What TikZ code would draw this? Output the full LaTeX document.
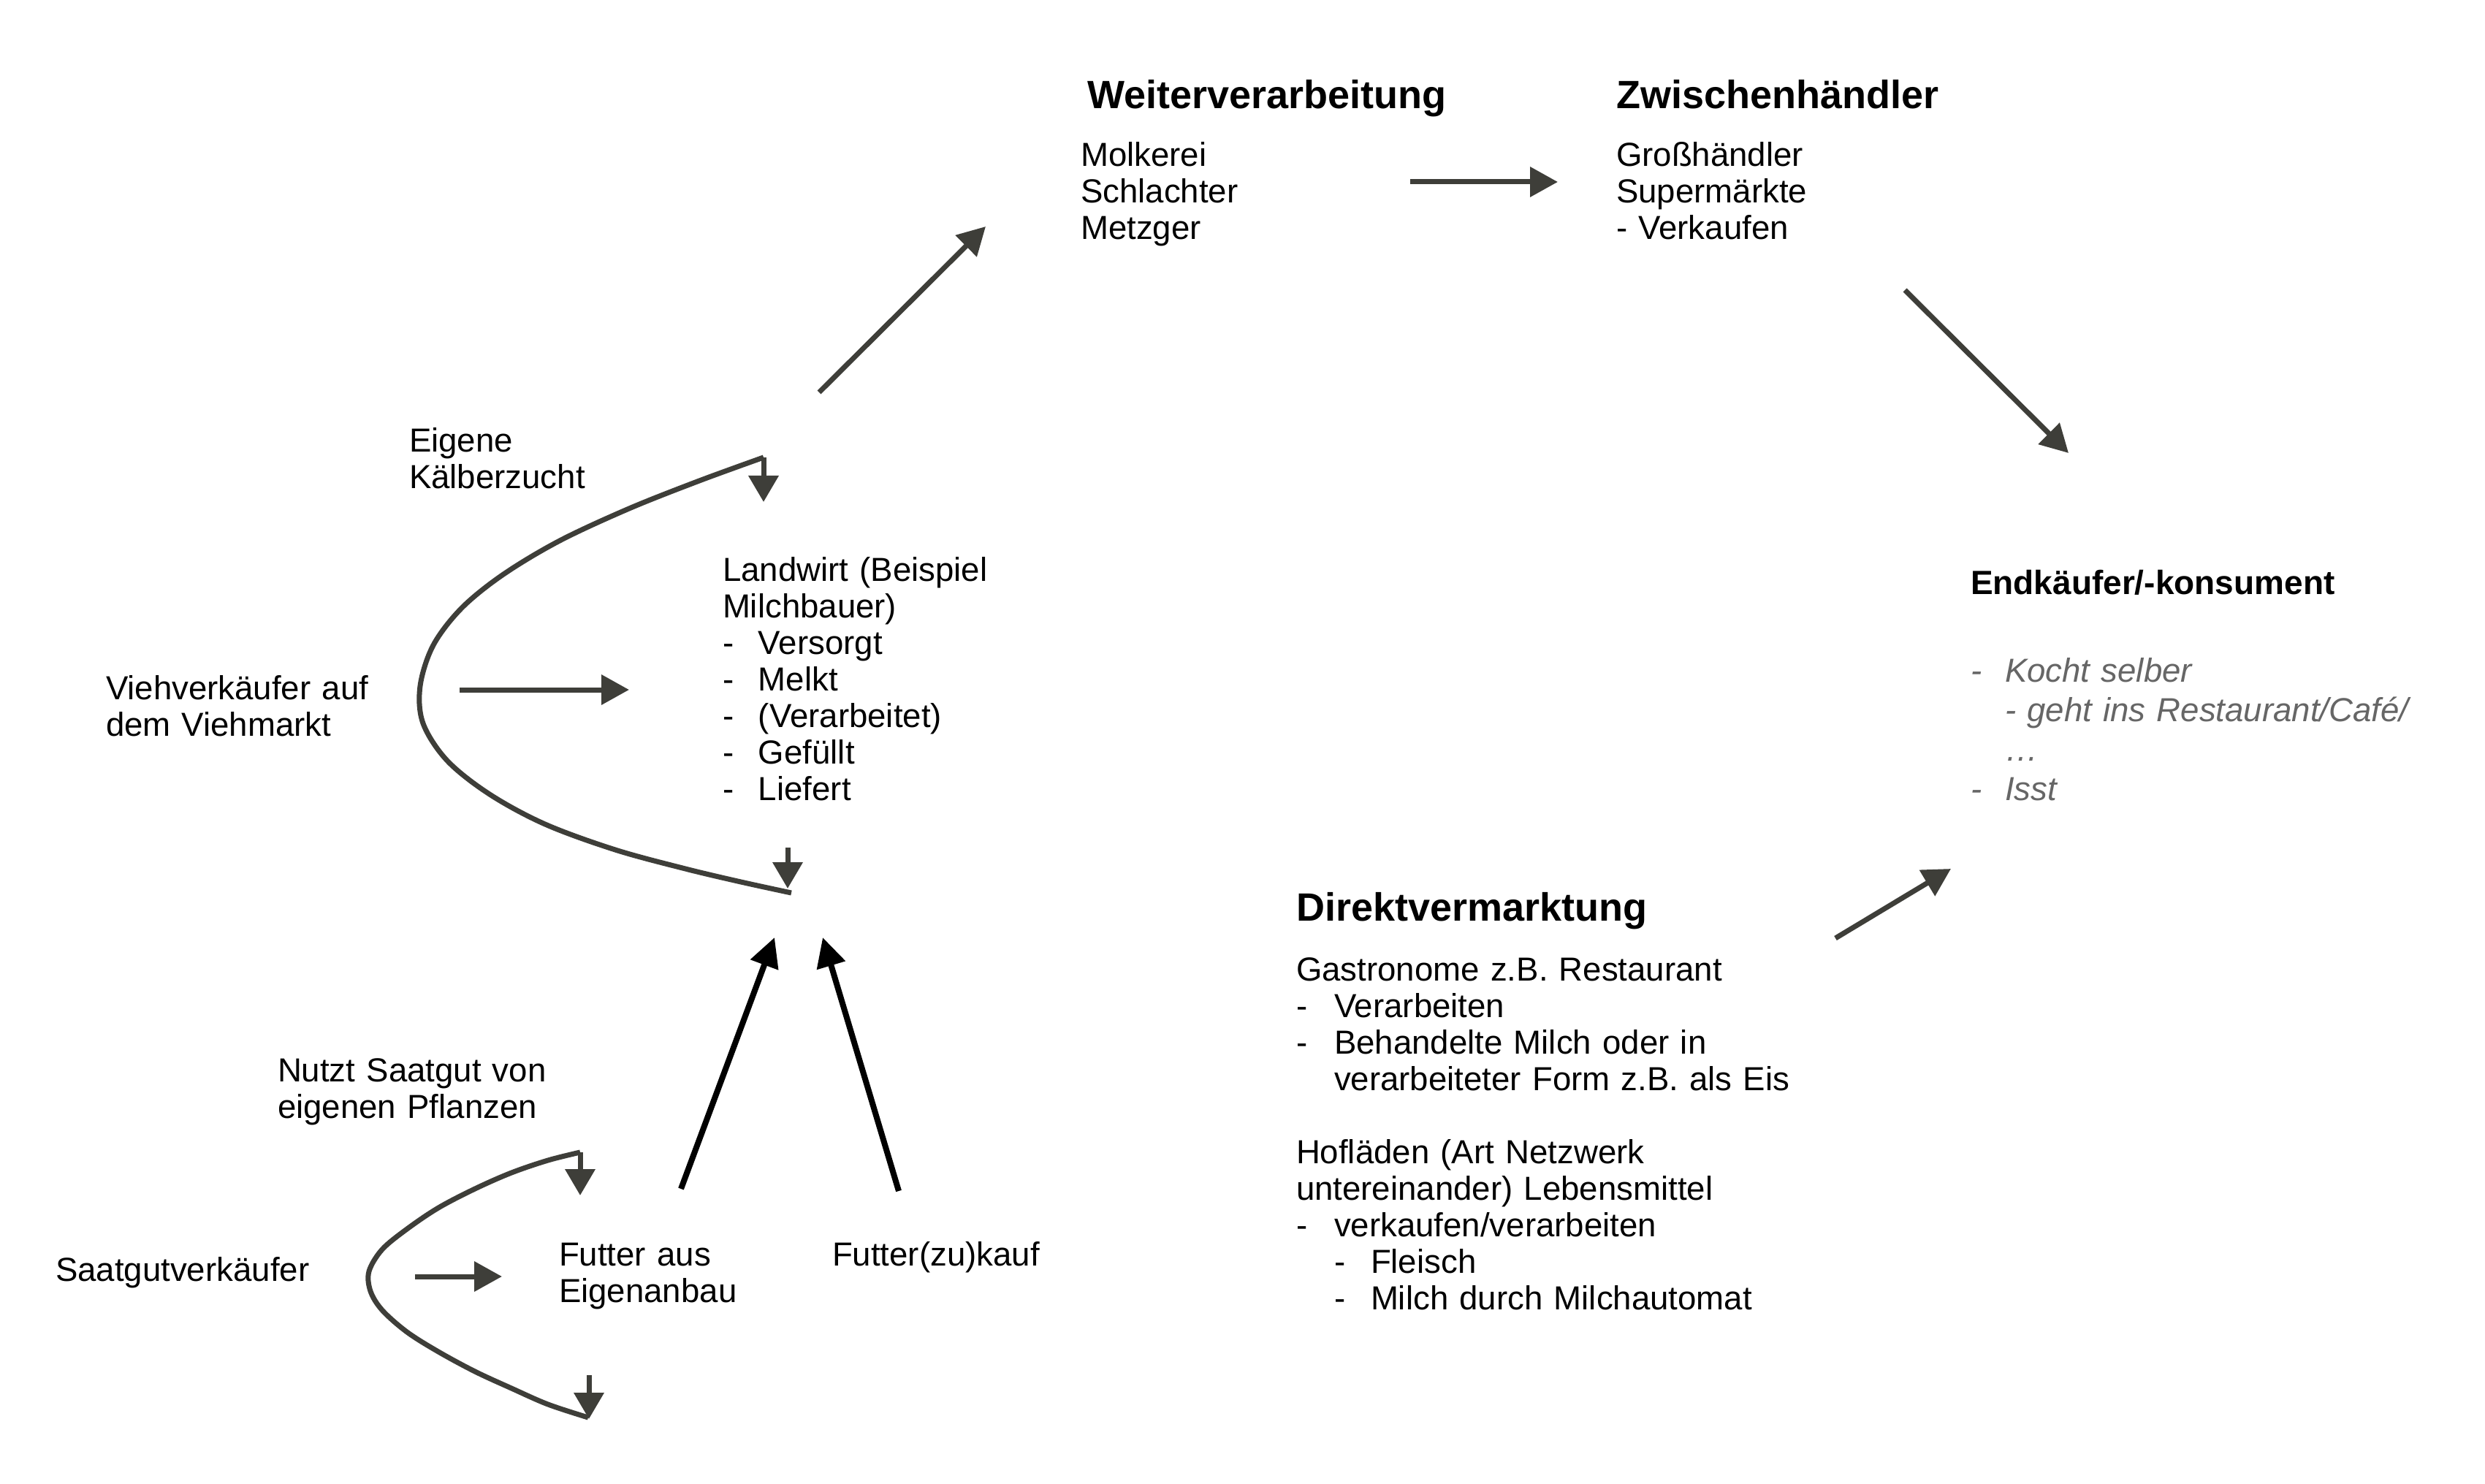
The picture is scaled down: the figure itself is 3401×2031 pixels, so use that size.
\documentclass[tikz,border=0pt]{standalone}
\usepackage{fontspec}
\setmainfont{Liberation Sans}
\usetikzlibrary{arrows.meta}
\definecolor{arr}{RGB}{62,62,57}
\definecolor{greytxt}{RGB}{102,102,102}
\newcommand{\dsh}[1]{\makebox[#1][l]{-}}
\begin{document}
\begin{tikzpicture}[x=0.25pt,y=-0.25pt,
  txt/.style={anchor=base west,inner sep=0pt,outer sep=0pt,font=\fontsize{11.4pt}{12.5pt}\selectfont},
  blk/.style={txt,text width=320pt,align=left},
  ttl/.style={anchor=base west,inner sep=0pt,outer sep=0pt,font=\fontsize{13.5pt}{16pt}\selectfont\bfseries},
  flow/.style={draw=arr,line width=1.75pt,-{Triangle[length=9.5pt,width=10pt]}},
  feed/.style={draw=black,line width=2pt,-{Triangle[length=10pt,width=9.75pt]}},
  loopline/.style={draw=arr,line width=1.75pt,line join=round},
  tick/.style={draw=arr,line width=1.75pt,-{Triangle[length=9pt,width=10pt]}},
]
\fill[white,use as bounding box] (0,0) rectangle (3401,2031);

% ---- top row ----
\node[ttl] (weiter) at (1488,149) {Weiterverarbeitung};
\node[blk] (weiterl) at (1479,228) {Molkerei\\Schlachter\\Metzger};
\node[ttl] (zwisch) at (2212,149) {Zwischenhändler};
\node[blk] (zwischl) at (2212,228) {Großhändler\\Supermärkte\\- Verkaufen};

% ---- consumer ----
\node[anchor=base west,inner sep=0pt,outer sep=0pt,font=\fontsize{11.5pt}{14pt}\selectfont\bfseries] (endk) at (2697,813) {Endkäufer/-konsument};
\node[blk,text=greytxt,font=\fontsize{11.4pt}{13.5pt}\selectfont\itshape] (endl) at (2697,933)
  {\dsh{11.75pt}Kocht selber\\ \hspace*{11.75pt}- geht ins Restaurant/Café/\\ \hspace*{11.75pt}…\\ \dsh{11.75pt}Isst};

% ---- direct marketing ----
\node[ttl] (direkt) at (1774,1260) {Direktvermarktung};
\node[blk] (direktl) at (1774,1342) {Gastronome z.B. Restaurant\\ \dsh{13pt}Verarbeiten\\ \dsh{13pt}Behandelte Milch oder in\\ \hspace*{13pt}verarbeiteter Form z.B. als Eis\\[12.5pt] Hofläden (Art Netzwerk\\ untereinander) Lebensmittel\\ \dsh{13pt}verkaufen/verarbeiten\\ \hspace*{13pt}\dsh{12.5pt}Fleisch\\ \hspace*{13pt}\dsh{12.5pt}Milch durch Milchautomat};

% ---- farmer ----
\node[blk] (eigene) at (560,619) {Eigene\\Kälberzucht};
\node[blk] (vieh) at (145,957) {Viehverkäufer auf\\dem Viehmarkt};
\node[blk] (landwirt) at (989,795) {Landwirt (Beispiel\\Milchbauer)\\ \dsh{12.25pt}Versorgt\\ \dsh{12.25pt}Melkt\\ \dsh{12.25pt}(Verarbeitet)\\ \dsh{12.25pt}Gefüllt\\ \dsh{12.25pt}Liefert};

% ---- feed ----
\node[blk] (nutzt) at (380,1480) {Nutzt Saatgut von\\eigenen Pflanzen};
\node[txt] (saat) at (76,1753) {Saatgutverkäufer};
\node[blk] (futter) at (765,1732) {Futter aus\\Eigenanbau};
\node[txt] (zukauf) at (1139,1732) {Futter(zu)kauf};

% ---- connector end points ----
\coordinate (a1s) at (1121,537);  \coordinate (a1e) at (1349,310);
\coordinate (a2s) at (1930,249);  \coordinate (a2e) at (2132,249);
\coordinate (a3s) at (2607,397);  \coordinate (a3e) at (2831,620);
\coordinate (a4s) at (2512,1284); \coordinate (a4e) at (2670,1189);
\coordinate (a5s) at (629,944);   \coordinate (a5e) at (861,944);
\coordinate (a6s) at (568,1747);  \coordinate (a6e) at (687,1747);
\coordinate (b1s) at (932,1627);  \coordinate (b1e) at (1060,1283);
\coordinate (b2s) at (1230,1630); \coordinate (b2e) at (1126,1283);
\coordinate (t1s) at (1045,626);  \coordinate (t1e) at (1045,687);
\coordinate (t2s) at (1078,1160); \coordinate (t2e) at (1078,1216);
\coordinate (t3s) at (794,1577);  \coordinate (t3e) at (794,1636);
\coordinate (t4s) at (806,1882);  \coordinate (t4e) at (806,1942);

\draw[flow] (a1s) -- (a1e);
\draw[flow] (a2s) -- (a2e);
\draw[flow] (a3s) -- (a3e);
\draw[flow] (a4s) -- (a4e);
\draw[flow] (a5s) -- (a5e);
\draw[flow] (a6s) -- (a6e);
\draw[feed] (b1s) -- (b1e);
\draw[feed] (b2s) -- (b2e);

% ---- loops ----
\draw[loopline] plot[smooth,tension=0.55] coordinates {(1045,626) (957,658) (861,696) (766,740) (689,786) (632,832) (593,883) (575,939) (579,990) (612,1041) (670,1087) (746,1128) (842,1163) (938,1189) (1014,1207) (1083,1222)};
\draw[loopline] plot[smooth,tension=0.55] coordinates {(794,1577) (750,1588) (700,1605) (650,1627) (600,1653) (557,1682) (523,1710) (505,1740) (507,1767) (523,1793) (557,1823) (600,1850) (650,1877) (700,1900) (750,1922) (805,1940)};
\draw[tick] (t1s) -- (t1e);
\draw[tick] (t2s) -- (t2e);
\draw[tick] (t3s) -- (t3e);
\draw[tick] (t4s) -- (t4e);
\end{tikzpicture}
\end{document}
